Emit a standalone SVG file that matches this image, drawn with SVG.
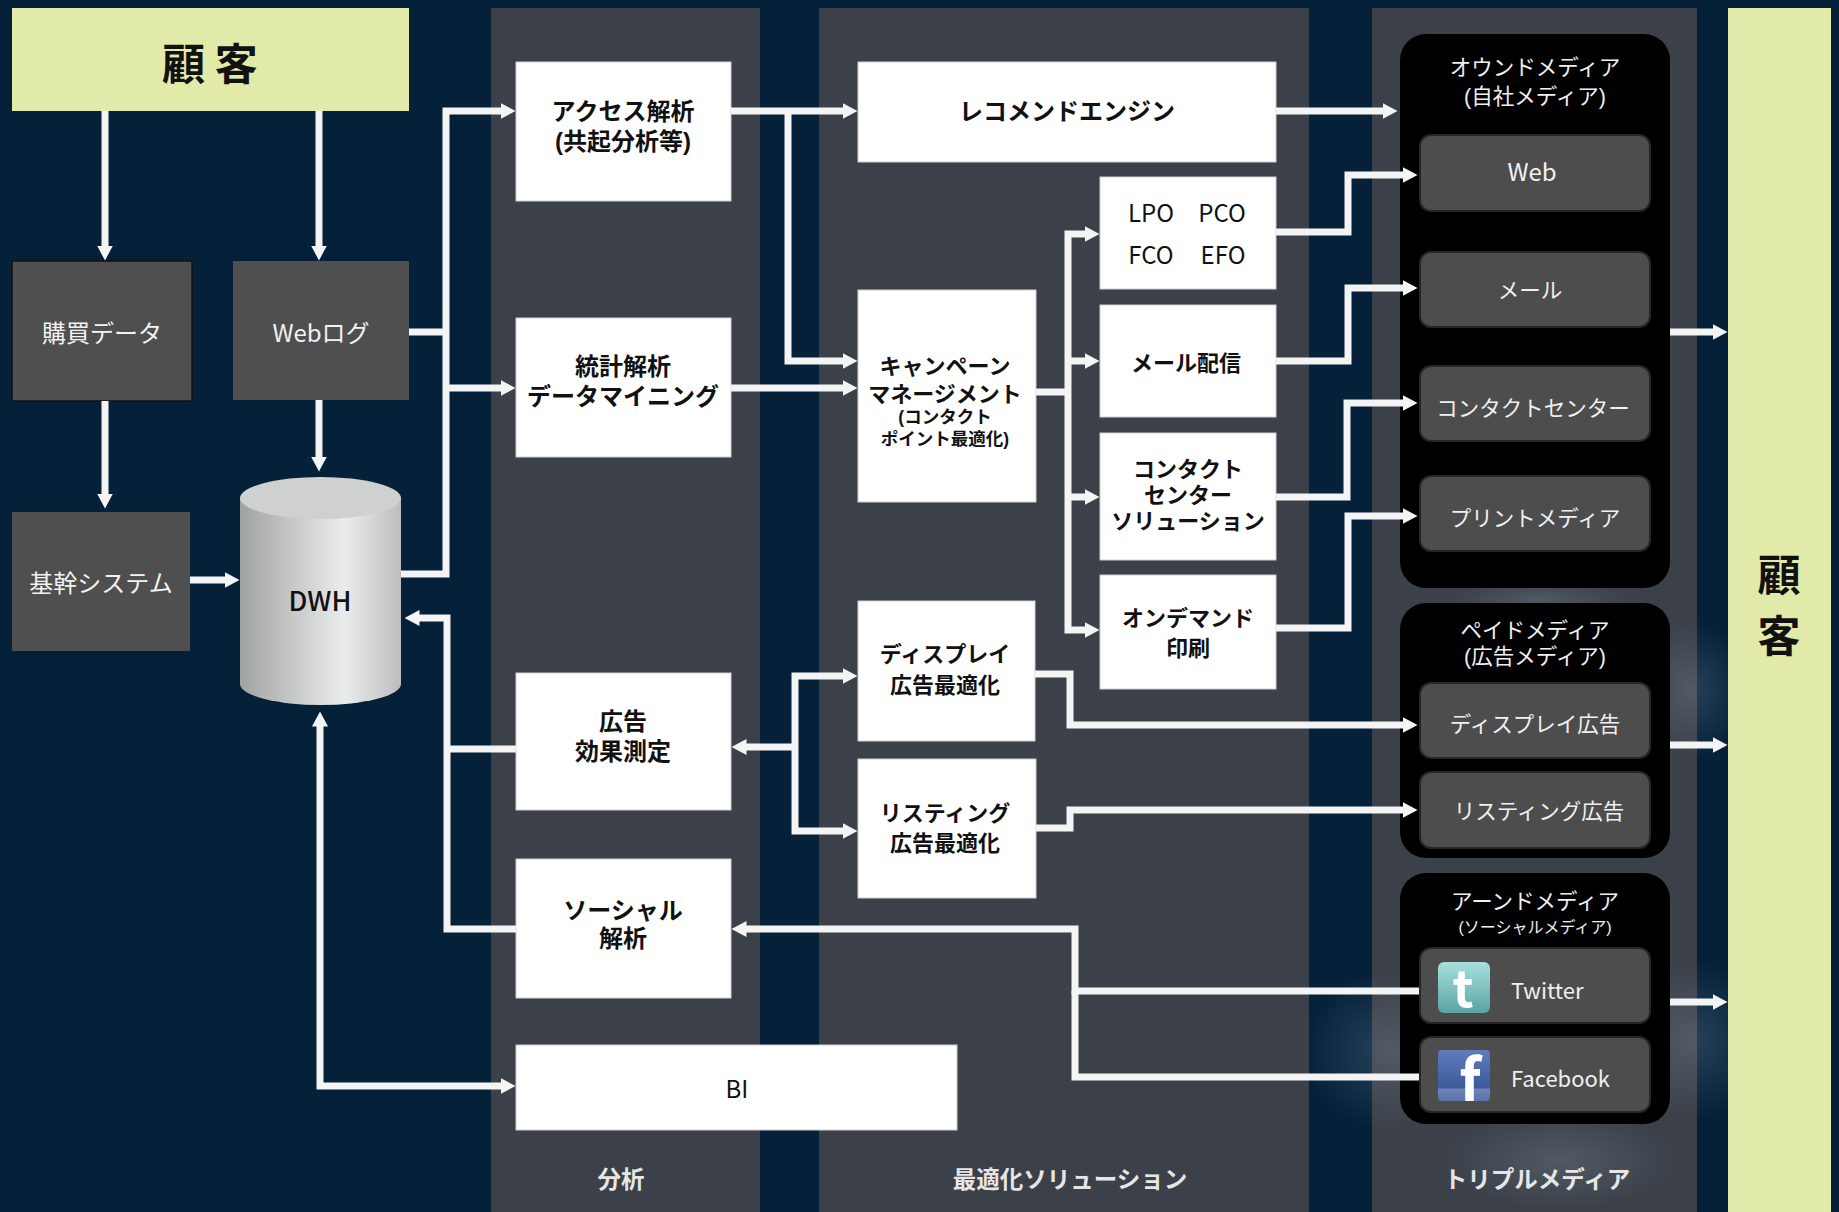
<svg xmlns="http://www.w3.org/2000/svg" width="1839" height="1212" viewBox="0 0 1839 1212">
<defs>
<style>
text{font-family:'Noto Sans CJK JP','Noto Sans',sans-serif;text-anchor:middle;dominant-baseline:central}
text.ml{font-family:'Liberation Sans','Noto Sans CJK JP',sans-serif}
.bk{fill:#111;font-weight:bold;font-size:24px}
.bk22{fill:#111;font-weight:bold;font-size:22px}
.sm{font-size:17.5px}
.lat{fill:#111;font-size:24px}
.wt{fill:#f2f2f2;font-size:24px}
.wm{fill:#f0f0f0;font-size:21.5px}
.col{fill:#e6e6e6;font-weight:bold;font-size:23.5px}
.big{fill:#111;font-weight:bold;font-size:43px}
.wbox{fill:#ffffff;stroke:#d0d0d0;stroke-width:1}
.dbox{fill:#4f4f4f}
.ibox{fill:#4d4d4d;stroke:#262626;stroke-width:2}
.blk{fill:#000}
.cn{fill:none;stroke:#f4f4f4;stroke-width:7;stroke-linejoin:miter;stroke-linecap:butt}
.ar{marker-end:url(#ah)}
</style>
<marker id="ah" viewBox="0 0 15 16" refX="0.5" refY="8" markerWidth="15" markerHeight="16" markerUnits="userSpaceOnUse" orient="auto-start-reverse">
<path d="M0 0 L15 8 L0 16 Z" fill="#f4f4f4"/>
</marker>
<linearGradient id="cyl" x1="0" y1="0" x2="1" y2="0">
<stop offset="0" stop-color="#a1a3a3"/>
<stop offset="0.3" stop-color="#c4c5c5"/>
<stop offset="0.65" stop-color="#ebecec"/>
<stop offset="1" stop-color="#bdbdbd"/>
</linearGradient>
<linearGradient id="tw" x1="0" y1="0" x2="0" y2="1">
<stop offset="0" stop-color="#a9e0df"/>
<stop offset="1" stop-color="#5aa3a2"/>
</linearGradient>
<linearGradient id="fb" x1="0" y1="0" x2="0" y2="1">
<stop offset="0" stop-color="#5f7dbd"/>
<stop offset="0.75" stop-color="#3b5998"/>
<stop offset="0.76" stop-color="#6d85b9"/>
<stop offset="1" stop-color="#5a73a8"/>
</linearGradient>
<radialGradient id="glow">
<stop offset="0" stop-color="#9fb4c8" stop-opacity="0.22"/>
<stop offset="1" stop-color="#9fb4c8" stop-opacity="0"/>
</radialGradient>
</defs>

<rect x="0" y="0" width="1839" height="1212" fill="#05213a"/>

<g id="columns">
<rect x="491" y="8" width="269" height="1204" fill="#3b4049"/>
<rect x="819" y="8" width="490" height="1204" fill="#3b4049"/>
<rect x="1372" y="8" width="325" height="1204" fill="#3b4049"/>
<ellipse cx="1390" cy="1050" rx="90" ry="80" fill="url(#glow)"/>
<ellipse cx="1690" cy="1040" rx="80" ry="80" fill="url(#glow)"/>
<ellipse cx="1690" cy="690" rx="60" ry="70" fill="url(#glow)"/>
<ellipse cx="1560" cy="1160" rx="120" ry="50" fill="url(#glow)"/>
<ellipse cx="1540" cy="600" rx="90" ry="20" fill="url(#glow)"/>
<text class="col" x="621" y="1178">分析</text>
<text class="col" x="1070" y="1178">最適化ソリューション</text>
<text class="col" x="1537" y="1178">トリプルメディア</text>
</g>

<g id="customer-top">
<rect x="12" y="8" width="397" height="103" fill="#e2eaa9"/>
<text class="big" x="210" y="61">顧 客</text>
</g>
<g id="customer-right">
<rect x="1728" y="8" width="103" height="1204" fill="#e2eaa9"/>
<text class="big ml" x="1779" y="576">顧<tspan x="1779" dy="61">客</tspan></text>
</g>

<g id="purchase-data">
<rect class="dbox" x="12" y="261" width="180" height="140" stroke="#111" stroke-width="1.5"/>
<text class="wt" x="102" y="331">購買データ</text>
</g>
<g id="weblog">
<rect class="dbox" x="233" y="261" width="176" height="139"/>
<text class="wt" x="321" y="331">Webログ</text>
</g>
<g id="core-system">
<rect class="dbox" x="12" y="512" width="178" height="139"/>
<text class="wt" x="101" y="581">基幹システム</text>
</g>
<g id="dwh">
<path d="M240 498 V684 A80.5 21 0 0 0 401 684 V498 Z" fill="url(#cyl)"/>
<ellipse cx="320.5" cy="498" rx="80.5" ry="21" fill="#cfd0d0"/>
<text x="320" y="599" font-size="27" fill="#111" font-weight="500">DWH</text>
</g>

<g id="access-analysis">
<rect class="wbox" x="516" y="62" width="215" height="139"/>
<text class="bk ml" x="623" y="111">アクセス解析<tspan x="623" dy="30">(共起分析等)</tspan></text>
</g>
<g id="statistics">
<rect class="wbox" x="516" y="318" width="215" height="139"/>
<text class="bk ml" x="623" y="366">統計解析<tspan x="623" dy="30">データマイニング</tspan></text>
</g>
<g id="ad-measure">
<rect class="wbox" x="516" y="673" width="215" height="137"/>
<text class="bk ml" x="623" y="721">広告<tspan x="623" dy="30">効果測定</tspan></text>
</g>
<g id="social-analysis">
<rect class="wbox" x="516" y="859" width="215" height="139"/>
<text class="bk ml" x="623" y="910">ソーシャル<tspan x="623" dy="28">解析</tspan></text>
</g>
<g id="bi">
<rect class="wbox" x="516" y="1045" width="441" height="85"/>
<text class="lat" x="737" y="1087" font-size="25">BI</text>
</g>

<g id="recommend">
<rect class="wbox" x="858" y="62" width="418" height="100"/>
<text class="bk" x="1067" y="109">レコメンドエンジン</text>
</g>
<g id="campaign">
<rect class="wbox" x="858" y="290" width="178" height="212"/>
<text class="bk22 ml" x="945" y="366">キャンペーン<tspan x="945" dy="28">マネージメント</tspan><tspan class="sm" x="945" dy="23">(コンタクト</tspan><tspan class="sm" x="945" dy="22">ポイント最適化)</tspan></text>
</g>
<g id="lpo">
<rect class="wbox" x="1100" y="177" width="176" height="112"/>
<text class="lat" x="1151" y="211">LPO</text>
<text class="lat" x="1222" y="211">PCO</text>
<text class="lat" x="1151" y="253">FCO</text>
<text class="lat" x="1223" y="253">EFO</text>
</g>
<g id="mail-delivery">
<rect class="wbox" x="1100" y="305" width="176" height="112"/>
<text class="bk22" x="1186" y="361">メール配信</text>
</g>
<g id="contact-solution">
<rect class="wbox" x="1100" y="433" width="176" height="127"/>
<text class="bk22 ml" x="1188" y="469">コンタクト<tspan x="1188" dy="26">センター</tspan><tspan x="1188" dy="26">ソリューション</tspan></text>
</g>
<g id="ondemand">
<rect class="wbox" x="1100" y="575" width="176" height="114"/>
<text class="bk22 ml" x="1188" y="618">オンデマンド<tspan x="1188" dy="30">印刷</tspan></text>
</g>
<g id="display-opt">
<rect class="wbox" x="858" y="601" width="177" height="140"/>
<text class="bk22 ml" x="945" y="654">ディスプレイ<tspan x="945" dy="31">広告最適化</tspan></text>
</g>
<g id="listing-opt">
<rect class="wbox" x="858" y="759" width="178" height="139"/>
<text class="bk22 ml" x="945" y="813">リスティング<tspan x="945" dy="30">広告最適化</tspan></text>
</g>

<g id="owned-media">
<rect class="blk" x="1400" y="34" width="270" height="554" rx="26"/>
<text class="wm ml" x="1535" y="68">オウンドメディア<tspan x="1535" dy="29">(自社メディア)</tspan></text>
</g>
<g id="web">
<rect class="ibox" x="1420" y="135" width="230" height="76" rx="11"/>
<text class="wt" x="1532" y="170">Web</text>
</g>
<g id="mail">
<rect class="ibox" x="1420" y="252" width="230" height="75" rx="11"/>
<text class="wm" x="1530" y="288">メール</text>
</g>
<g id="contact-center">
<rect class="ibox" x="1420" y="366" width="230" height="75" rx="11"/>
<text class="wm" x="1533" y="406">コンタクトセンター</text>
</g>
<g id="print-media">
<rect class="ibox" x="1420" y="476" width="230" height="75" rx="11"/>
<text class="wm" x="1535" y="516">プリントメディア</text>
</g>

<g id="paid-media">
<rect class="blk" x="1400" y="603" width="270" height="255" rx="26"/>
<text class="wm ml" x="1535" y="631">ペイドメディア<tspan x="1535" dy="26">(広告メディア)</tspan></text>
</g>
<g id="display-ad">
<rect class="ibox" x="1420" y="683" width="230" height="75" rx="11"/>
<text class="wm" x="1535" y="722">ディスプレイ広告</text>
</g>
<g id="listing-ad">
<rect class="ibox" x="1420" y="772" width="230" height="76" rx="11"/>
<text class="wm" x="1539" y="809">リスティング広告</text>
</g>

<g id="earned-media">
<rect class="blk" x="1400" y="873" width="270" height="251" rx="26"/>
<text class="wm ml" x="1535" y="902">アーンドメディア<tspan x="1535" dy="25" font-size="16">(ソーシャルメディア)</tspan></text>
</g>
<g id="twitter">
<rect class="ibox" x="1420" y="948" width="230" height="75" rx="11"/>
<rect x="1438" y="962" width="52" height="51" rx="6" fill="url(#tw)"/>
<text x="1463" y="1007" font-family="'DejaVu Sans',sans-serif" font-weight="bold" font-size="50" fill="#ffffff" style="dominant-baseline:alphabetic">t</text>
<text x="1511" y="989" font-size="22" fill="#f0f0f0" style="text-anchor:start">Twitter</text>
</g>
<g id="facebook">
<rect class="ibox" x="1420" y="1037" width="230" height="75" rx="11"/>
<rect x="1438" y="1050" width="52" height="51" rx="4" fill="url(#fb)"/>
<text x="1470" y="1101" font-family="'Liberation Sans',sans-serif" font-weight="bold" font-size="58" fill="#ffffff" style="dominant-baseline:alphabetic">f</text>
<text x="1511" y="1077" font-size="22" fill="#f0f0f0" style="text-anchor:start">Facebook</text>
</g>

<g id="connectors">
<path class="cn ar" d="M105 111 V246"/>
<path class="cn ar" d="M319 111 V246"/>
<path class="cn ar" d="M105 401 V494"/>
<path class="cn ar" d="M319 400 V457"/>
<path class="cn ar" d="M190 580 H225" stroke-width="9"/>
<path class="cn" d="M409 332 H446"/>
<path class="cn ar" d="M401 574 H446 V111 H501"/>
<path class="cn ar" d="M446 388 H501"/>
<path class="cn ar" d="M731 111 H843"/>
<path class="cn ar" d="M788 111 V361 H843"/>
<path class="cn ar" d="M731 388 H843"/>
<path class="cn" d="M1036 392 H1068"/>
<path class="cn ar" d="M1068 392 V234 H1085"/>
<path class="cn ar" d="M1068 392 V630 H1085"/>
<path class="cn ar" d="M1068 361 H1085"/>
<path class="cn ar" d="M1068 497 H1085"/>
<path class="cn ar" d="M1276 111 H1383"/>
<path class="cn ar" d="M1276 232 H1348 V175 H1403"/>
<path class="cn ar" d="M1276 361 H1348 V288 H1403"/>
<path class="cn ar" d="M1276 497 H1347 V403 H1403"/>
<path class="cn ar" d="M1276 628 H1348 V516 H1403"/>
<path class="cn ar" d="M1670 332 H1713"/>
<path class="cn ar" d="M1670 745 H1713"/>
<path class="cn ar" d="M1670 1002 H1713"/>
<path class="cn ar" d="M1035 674 H1070 V725 H1403"/>
<path class="cn ar" d="M1036 828 H1070 V810 H1403"/>
<path class="cn ar" d="M795 747 H746"/>
<path class="cn ar" d="M795 747 V676 H843"/>
<path class="cn ar" d="M795 747 V831 H843"/>
<path class="cn ar" d="M1419 991 H1075 V929 H746"/>
<path class="cn" d="M1419 1077 H1075 V991"/>
<path class="cn" d="M516 749 H447"/>
<path class="cn ar" d="M516 929 H447 V618 H419"/>
<path class="cn ar" d="M320 726 V1086 H501" marker-start="url(#ah)"/>
</g>
</svg>
